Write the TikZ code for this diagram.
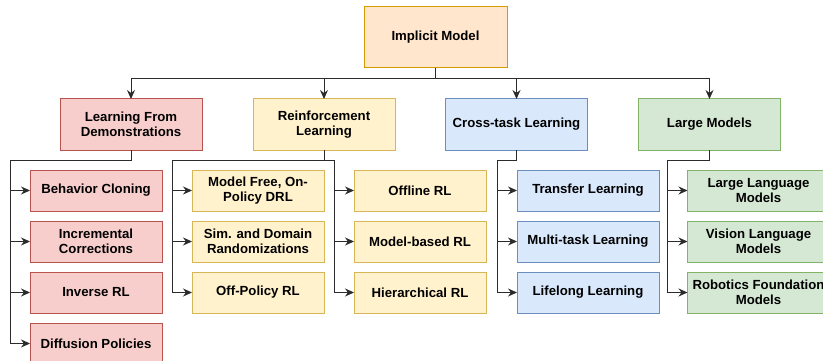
\documentclass[tikz,border=0pt]{standalone}
\usepackage{fontspec}
\setmainfont{Liberation Sans}
\usepackage{xcolor}
\usetikzlibrary{arrows.meta, positioning}

\definecolor{rootfill}{HTML}{FFE6CC}
\definecolor{rootline}{HTML}{D79B00}
\definecolor{redfill}{HTML}{F8CECC}
\definecolor{redline}{HTML}{B85450}
\definecolor{yelfill}{HTML}{FFF2CC}
\definecolor{yelline}{HTML}{D6B656}
\definecolor{bluefill}{HTML}{DAE8FC}
\definecolor{blueline}{HTML}{6C8EBF}
\definecolor{grnfill}{HTML}{D5E8D4}
\definecolor{grnline}{HTML}{82B366}
\definecolor{edge}{HTML}{2B2B2B}

\begin{document}
\begin{tikzpicture}[
    node distance=10pt,
    box/.style={draw, line width=1pt, outer sep=0pt, align=center, inner sep=0pt, font=\bfseries\fontsize{13.2}{15}\selectfont},
    root_blk/.style={box, fill=rootfill, draw=rootline, minimum width=143pt, minimum height=61pt},
    lfd_blk/.style={box, fill=redfill, draw=redline},
    rl_blk/.style={box, fill=yelfill, draw=yelline},
    ct_blk/.style={box, fill=bluefill, draw=blueline},
    lm_blk/.style={box, fill=grnfill, draw=grnline},
    top_blk/.style={minimum width=142pt, minimum height=51pt},
    leaf_blk/.style={minimum width=132pt, minimum height=41pt},
    wide_blk/.style={minimum width=142pt, minimum height=41pt},
    arrow/.style={-{Stealth[length=9pt, width=8pt, inset=3pt]}, line width=1pt, draw=edge}
]
    \useasboundingbox (0,0) rectangle (823pt,-361pt);

    % Root
    \node[root_blk] (root) at (435.5pt,-37.5pt) {Implicit Model};

    % Categories
    \node[lfd_blk, top_blk] (lfd) at (131pt,-124.5pt) {Learning From\\Demonstrations};
    \node[rl_blk, top_blk, right=51pt of lfd] (rl) {Reinforcement\\Learning};
    \node[ct_blk, top_blk, right=50.5pt of rl] (ct) {Cross-task Learning};
    \node[lm_blk, top_blk, right=51pt of ct] (lm) {Large Models};

    \draw[arrow] (root.south) -- ++(0,-11pt) -| (lfd.north);
    \draw[arrow] (root.south) -- ++(0,-11pt) -| (rl.north);
    \draw[arrow] (root.south) -- ++(0,-11pt) -| (ct.north);
    \draw[arrow] (root.south) -- ++(0,-11pt) -| (lm.north);

    % Learning From Demonstrations
    \node[lfd_blk, leaf_blk, below=20pt of lfd.south, xshift=-35pt] (bc) {Behavior Cloning};
    \node[lfd_blk, leaf_blk, below=of bc] (ic) {Incremental\\Corrections};
    \node[lfd_blk, leaf_blk, below=of ic] (irl) {Inverse RL};
    \node[lfd_blk, leaf_blk, below=of irl] (dp) {Diffusion Policies};

    \draw[arrow] (lfd.south) -- ++(0,-10pt) -| ([xshift=-20pt]bc.west) -- (bc.west);
    \draw[arrow] (lfd.south) -- ++(0,-10pt) -| ([xshift=-20pt]ic.west) -- (ic.west);
    \draw[arrow] (lfd.south) -- ++(0,-10pt) -| ([xshift=-20pt]irl.west) -- (irl.west);
    \draw[arrow] (lfd.south) -- ++(0,-10pt) -| ([xshift=-20pt]dp.west) -- (dp.west);

    % Reinforcement Learning
    \node[rl_blk, leaf_blk, below=20pt of rl.south, xshift=-66pt] (mf) {Model Free, On-\\Policy DRL};
    \node[rl_blk, leaf_blk, below=of mf] (sdr) {Sim. and Domain\\Randomizations};
    \node[rl_blk, leaf_blk, below=of sdr] (opl) {Off-Policy RL};
    \node[rl_blk, leaf_blk, below=20pt of rl.south, xshift=96pt] (ofl) {Offline RL};
    \node[rl_blk, leaf_blk, below=of ofl] (mb) {Model-based RL};
    \node[rl_blk, leaf_blk, below=of mb] (hrl) {Hierarchical RL};

    \draw[arrow] (rl.south) -- ++(0,-10pt) -| ([xshift=-20pt]mf.west) -- (mf.west);
    \draw[arrow] (rl.south) -- ++(0,-10pt) -| ([xshift=-20pt]sdr.west) -- (sdr.west);
    \draw[arrow] (rl.south) -- ++(0,-10pt) -| ([xshift=-20pt]opl.west) -- (opl.west);
    \draw[arrow] (rl.south) -- ++(0,-10pt) -| ([xshift=-20pt]ofl.west) -- (ofl.west);
    \draw[arrow] (rl.south) -- ++(0,-10pt) -| ([xshift=-20pt]mb.west) -- (mb.west);
    \draw[arrow] (rl.south) -- ++(0,-10pt) -| ([xshift=-20pt]hrl.west) -- (hrl.west);

    % Cross-task Learning
    \node[ct_blk, wide_blk, below=20pt of ct.south, xshift=71.5pt] (tl) {Transfer Learning};
    \node[ct_blk, wide_blk, below=of tl] (mtl) {Multi-task Learning};
    \node[ct_blk, wide_blk, below=of mtl] (ll) {Lifelong Learning};

    \draw[arrow] (ct.south) -- ++(0,-10pt) -| ([xshift=-20pt]tl.west) -- (tl.west);
    \draw[arrow] (ct.south) -- ++(0,-10pt) -| ([xshift=-20pt]mtl.west) -- (mtl.west);
    \draw[arrow] (ct.south) -- ++(0,-10pt) -| ([xshift=-20pt]ll.west) -- (ll.west);

    % Large Models
    \node[lm_blk, wide_blk, below=20pt of lm.south, xshift=49pt] (llm) {Large Language\\Models};
    \node[lm_blk, wide_blk, below=of llm] (vlm) {Vision Language\\Models};
    \node[lm_blk, wide_blk, below=of vlm] (rfm) {Robotics Foundation\\Models};

    \draw[arrow] (lm.south) -- ++(0,-10pt) -| ([xshift=-20pt]llm.west) -- (llm.west);
    \draw[arrow] (lm.south) -- ++(0,-10pt) -| ([xshift=-20pt]vlm.west) -- (vlm.west);
    \draw[arrow] (lm.south) -- ++(0,-10pt) -| ([xshift=-20pt]rfm.west) -- (rfm.west);

\end{tikzpicture}
\end{document}
